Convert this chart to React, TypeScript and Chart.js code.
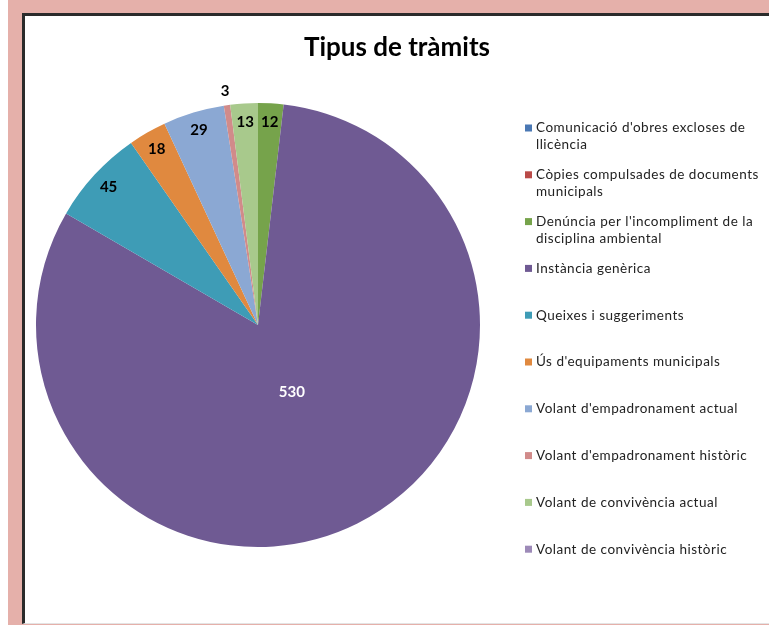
import React, { useEffect, useRef } from 'react';
import { Chart, registerables, layouts } from 'chart.js';

Chart.register(...registerables);

const TITLE = 'Tipus de tràmits';

const categories = [
  "Comunicació d'obres excloses de llicència",
  'Còpies compulsades de documents municipals',
  "Denúncia per l'incompliment de la disciplina ambiental",
  'Instància genèrica',
  'Queixes i suggeriments',
  "Ús d'equipaments municipals",
  "Volant d'empadronament actual",
  "Volant d'empadronament històric",
  'Volant de convivència actual',
  'Volant de convivència històric',
];

const legendLines = [
  ["Comunicació d'obres excloses de", 'llicència'],
  ['Còpies compulsades de documents', 'municipals'],
  ["Denúncia per l'incompliment de la", 'disciplina ambiental'],
  ['Instància genèrica'],
  ['Queixes i suggeriments'],
  ["Ús d'equipaments municipals"],
  ["Volant d'empadronament actual"],
  ["Volant d'empadronament històric"],
  ['Volant de convivència actual'],
  ['Volant de convivència històric'],
];

const values = [0, 0, 12, 530, 45, 18, 29, 3, 13, 0];

const colors = [
  '#4a78b4',
  '#b94a48',
  '#76a34b',
  '#6f5a93',
  '#3e9cb6',
  '#e0893f',
  '#8ba8d3',
  '#d18b8a',
  '#a8c98c',
  '#9d8ab8',
];

const PINK = '#e5b0aa';
const FONT = 'Lato, "Open Sans", sans-serif';

export default function App() {
  const ref = useRef<HTMLCanvasElement | null>(null);

  useEffect(() => {
    if (!ref.current) return;

    const legendPlugin = {
      id: 'sideLegend',
      beforeInit(chart: any) {
        const box: any = {
          position: 'right',
          weight: 10,
          fullSize: false,
          options: {},
          left: 0,
          top: 0,
          right: 0,
          bottom: 0,
          width: 0,
          height: 0,
          isHorizontal() {
            return false;
          },
          getPadding() {
            return { left: 0, right: 0, top: 0, bottom: 0 };
          },
          update(_w: number, h: number) {
            this.width = 278;
            this.height = h;
          },
          draw() {
            const ctx = chart.ctx;
            ctx.save();
            ctx.font = `13.5px ${FONT}`;
            (ctx as any).letterSpacing = '0.5px';
            ctx.textBaseline = 'middle';
            ctx.textAlign = 'left';
            const slot = 46.8;
            legendLines.forEach((lines, i) => {
              const y = this.top + 25 + i * slot;
              ctx.fillStyle = colors[i];
              ctx.fillRect(this.left + 35, y - 3.5, 7, 7);
              ctx.fillStyle = '#222222';
              lines.forEach((t, j) => {
                ctx.fillText(t, this.left + 46, y + j * 17);
              });
            });
            ctx.restore();
          },
        };
        layouts.addBox(chart, box);
      },
    };

    const labelPlugin = {
      id: 'sliceLabels',
      afterDatasetsDraw(chart: any) {
        const ctx = chart.ctx;
        const meta = chart.getDatasetMeta(0);
        ctx.save();
        ctx.font = `bold 15px ${FONT}`;
        ctx.textAlign = 'center';
        ctx.textBaseline = 'middle';
        meta.data.forEach((arc: any, i: number) => {
          const v = values[i];
          if (!v) return;
          const p = arc.getProps(['x', 'y', 'startAngle', 'endAngle', 'outerRadius'], true);
          const mid = (p.startAngle + p.endAngle) / 2;
          const span = p.endAngle - p.startAngle;
          let d = p.outerRadius * 0.915;
          let col = '#000000';
          if (span > Math.PI) {
            d = p.outerRadius * 0.34;
            col = '#ffffff';
          } else if (span < 0.05) {
            d = p.outerRadius + 14;
          }
          ctx.fillStyle = col;
          ctx.fillText(String(v), p.x + Math.cos(mid) * d, p.y + Math.sin(mid) * d);
        });
        ctx.restore();
      },
    };

    const chart = new Chart(ref.current, {
      type: 'pie',
      data: {
        labels: categories,
        datasets: [
          {
            data: values,
            backgroundColor: colors,
            borderWidth: 0,
            hoverOffset: 0,
            offset: 0,
          },
        ],
      },
      options: {
        responsive: false,
        animation: false,
        layout: { padding: { left: 1, right: 1, top: 0, bottom: 76 } },
        plugins: {
          legend: { display: false },
          tooltip: { enabled: false },
          title: {
            display: true,
            text: TITLE,
            color: '#000000',
            font: { family: FONT, size: 26, weight: 'bold' },
            padding: { top: 16.4, bottom: 39.4 },
          },
        },
      },
      plugins: [legendPlugin, labelPlugin],
    } as any);

    return () => chart.destroy();
  }, []);

  return (
    <div style={{ position: 'fixed', left: 0, top: 0, width: 769, height: 625, background: '#ffffff', overflow: 'hidden' }}>
      <div style={{ position: 'absolute', left: 8, top: 0, right: 0, bottom: 0, background: PINK }} />
      <div
        style={{
          position: 'absolute',
          left: 22,
          top: 13,
          width: 760,
          height: 607,
          borderTop: '3px solid #2b2b2b',
          borderLeft: '3px solid #2b2b2b',
          borderBottom: '1px solid #e4e4e4',
          background: '#ffffff',
        }}
      />
      <canvas ref={ref} width={744} height={607} style={{ position: 'absolute', left: 25, top: 16, width: 744, height: 607 }} />
    </div>
  );
}
